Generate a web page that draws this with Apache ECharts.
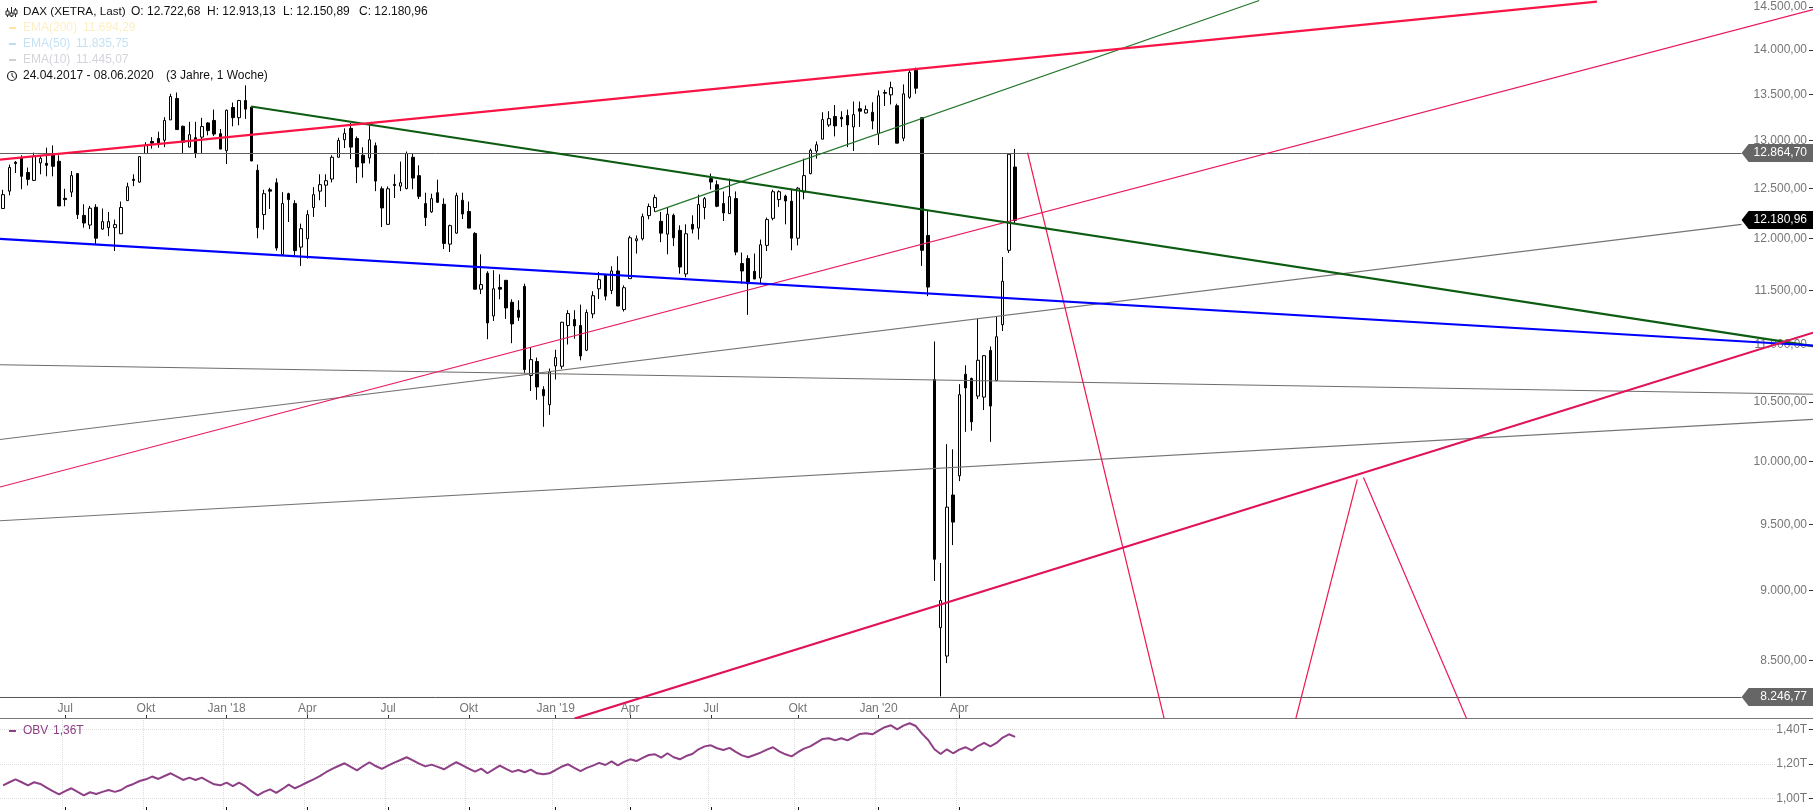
<!DOCTYPE html>
<html><head><meta charset="utf-8">
<style>html,body{margin:0;padding:0;background:#fff;overflow:hidden}#c{width:1813px;height:810px}</style>
<script src="https://cdn.jsdelivr.net/npm/echarts@6/dist/echarts.min.js"></script>
</head><body><div id="c"></div>
<script>
const FONT = '"Liberation Sans", Arial, sans-serif';
const startDate = '2017-04-24';
const weekSlots = 292;
// weekly candles: open, close, low, high
const candles = [
[12299,12439,12299,12489],[12475,12718,12432,12749],[12773,12759,12661,12786],[12822,12627,12495,12846],[12666,12596,12533,12718],
[12585,12835,12578,12874],[12766,12815,12648,12846],[12762,12741,12627,12926],[12864,12731,12627,12950],[12783,12325,12325,12846],
[12402,12389,12322,12499],[12465,12634,12415,12682],[12655,12238,12194,12655],[12230,12154,12108,12342],[12134,12302,12094,12325],
[12312,12004,11943,12342],[12094,12168,12088,12299],[12108,12168,12024,12265],[12108,12138,11879,12188],[12048,12309,12048,12369],
[12379,12520,12379,12561],[12596,12585,12526,12648],[12568,12832,12561,12835],[12864,12950,12864,12984],[12992,12974,12916,13038],
[13024,12974,12926,13096],[13005,13217,12932,13252],[13223,13478,13223,13508],[13457,13119,13119,13522],[13154,12984,12870,13162],
[12932,13064,12932,13202],[13032,12870,12818,13202],[13038,13151,12864,13245],[13190,13108,13057,13198],[13217,13071,13049,13335],
[13075,12911,12911,13125],[12895,13328,12755,13335],[13358,13247,13154,13412],[13247,13434,13165,13441],[13434,13340,13234,13601],
[13362,12786,12786,13362],[12689,12108,12004,12749],[12238,12449,12088,12489],[12489,12475,12295,12509],[12561,11908,11883,12606],
[11844,12349,11844,12465],[12449,12389,12164,12459],[12349,11883,11838,12382],[11917,12098,11735,12148],[11998,12238,11806,12282],
[12309,12439,12215,12516],[12475,12541,12382,12648],[12536,12582,12315,12648],[12599,12825,12565,12846],[12825,13002,12825,13032],
[13010,13078,12922,13132],[13132,12932,12807,13190],[13024,12724,12557,13046],[12846,12766,12613,12930],[12818,13010,12759,13165],
[12947,12578,12475,12981],[12499,12305,12114,12523],[12141,12499,12134,12523],[12544,12533,12405,12648],[12526,12561,12475,12780],
[12502,12864,12492,12885],[12825,12609,12495,12864],[12634,12422,12395,12741],[12349,12208,12124,12459],[12265,12399,12255,12449],
[12459,12362,12355,12592],[12342,11953,11898,12402],[11946,12128,11869,12138],[12054,12429,12048,12459],[12382,12244,12194,12459],
[12269,12104,12104,12369],[12051,11514,11514,12064],[11514,11557,11468,11847],[11665,11201,11053,11684],[11265,11518,11219,11694],
[11531,11514,11419,11655],[11598,11339,11238,11598],[11391,11192,11017,11419],[11318,11253,11219,11410],[11540,10782,10753,11566],
[10730,10870,10595,10981],[10853,10630,10519,10888],[10607,10554,10289,10636],[10477,10761,10390,10791],[10814,10888,10695,10958],
[10811,11207,10788,11210],[11177,11287,11005,11318],[11232,11173,11057,11318],[11177,10902,10864,11370],[10954,11297,10946,11324],
[11284,11453,11244,11495],[11518,11604,11422,11677],[11652,11449,11410,11655],[11502,11687,11468,11732],[11687,11357,11357,11828],
[11324,11528,11306,11550],[11614,12008,11614,12028],[11979,11998,11854,12031],[11998,12218,11982,12248],[12228,12319,12191,12349],
[12309,12409,12265,12439],[12171,12054,11965,12265],[12044,12241,11847,12309],[12231,12008,11927,12248],[12081,11725,11661,12131],
[11658,12048,11627,12141],[12141,12094,12051,12231],[12104,12339,11991,12439],[12309,12399,12191,12415],[12603,12568,12492,12655],
[12541,12322,12312,12585],[12349,12255,12174,12472],[12248,12419,12248,12603],[12399,11869,11838,12472],[11758,11687,11566,11864],
[11806,11566,11275,11838],[11684,11610,11610,11854],[11620,11940,11566,11991],[11934,12188,11879,12208],[12201,12469,12181,12489],
[12389,12469,12315,12482],[12425,12375,12141,12439],[12372,12004,11886,12499],[12004,12505,11934,12516],[12465,12634,12392,12811],
[12655,12898,12648,12916],[12891,12957,12811,12992],[13016,13226,13016,13306],[13168,13237,13147,13317],[13260,13158,13046,13384],
[13252,13234,13147,13317],[13270,13168,12932,13335],[13147,13280,12891,13423],[13344,13318,13147,13423],[13298,13335,13292,13380],
[13306,13212,13122,13415],[13078,13486,12953,13545],[13522,13515,13374,13553],[13497,13576,13391,13643],[13377,12974,12974,13399],
[13027,13508,12995,13612],[13470,13747,13453,13785],[13770,13570,13508,13800],[13247,11886,11735,13247],[12031,11534,11449,12275],
[10695,9233,9071,11032],[8731,8927,8254,9205],[8531,9635,8482,10144],[9731,9518,9341,10102],[9885,10563,9842,10654],
[10741,10621,10247,10820],[10703,10331,10256,10712],[10551,10864,10525,11238],[10542,10905,10431,10911],[10952,10465,10163,10987],
[10686,11075,10680,11256],[11185,11589,11127,11821],[11886,12857,11860,12864],[12723,12181,12151,12913]
];
// on-balance volume in trillions, weekly
const obvValues = [
1.075,1.093,1.110,1.093,1.075,1.093,1.083,1.062,1.041,1.023,
1.041,1.058,1.037,1.017,1.035,1.025,1.037,1.048,1.037,1.048,
1.070,1.083,1.100,1.110,1.126,1.112,1.129,1.145,1.126,1.106,
1.120,1.106,1.120,1.100,1.081,1.075,1.091,1.071,1.091,1.070,
1.041,1.017,1.037,1.052,1.031,1.054,1.079,1.058,1.075,1.093,
1.110,1.128,1.151,1.170,1.187,1.203,1.182,1.162,1.187,1.209,
1.187,1.170,1.189,1.207,1.222,1.238,1.220,1.201,1.185,1.195,
1.182,1.168,1.189,1.209,1.191,1.172,1.155,1.172,1.145,1.168,
1.189,1.170,1.153,1.164,1.151,1.166,1.145,1.139,1.145,1.164,
1.184,1.197,1.176,1.158,1.176,1.189,1.205,1.193,1.214,1.191,
1.211,1.226,1.216,1.234,1.251,1.255,1.236,1.261,1.238,1.226,
1.245,1.257,1.284,1.301,1.307,1.290,1.280,1.292,1.269,1.249,
1.238,1.251,1.265,1.282,1.296,1.272,1.255,1.243,1.267,1.288,
1.301,1.323,1.344,1.348,1.336,1.348,1.336,1.354,1.373,1.377,
1.371,1.392,1.412,1.423,1.400,1.421,1.435,1.419,1.375,1.338,
1.284,1.257,1.284,1.261,1.282,1.296,1.278,1.303,1.321,1.301,
1.321,1.352,1.371,1.356
];
const tickDates = ['2017-07-03','2017-10-02','2018-01-01','2018-04-02','2018-07-02','2018-10-01','2019-01-07','2019-04-01','2019-07-01','2019-10-07','2020-01-06','2020-04-06'];
const tickLabels = ['Jul','Okt',"Jan '18",'Apr','Jul','Okt',"Jan '19",'Apr','Jul','Okt',"Jan '20",'Apr'];
const priceTicks = [8500,9000,9500,10000,10500,11000,11500,12000,12500,13000,13500,14000,14500];
const obvTicks = [1.0,1.2,1.4];
const priceTags = [12864.70,12180.96,8246.77];
// drawn lines: [week index, price] end points
const redResistance = [[-0.5,12801],[256.7,14566]];
const greenDown = [[39.95,13369],[291.5,10990]];
const greenUp = [[104.96,12265],[202.3,14578]];
const blueSupport = [[-0.5,11998],[291.5,10996]];
const crimsonSupport = [[92.04,8106],[291.5,11112]];
const pinkChannel = [[-0.5,9795],[291.5,14471]];
const pinkDrop = [[165,12874],[187.0,8106]];
const pinkRise = [[208.2,8106],[218.1,9856]];
const pinkFall = [[219.1,9872],[235.7,8106]];
const greyHigh = [[-0.5,12864.7],[280,12864.7]];
const greyLow = [[-0.5,8246.77],[280,8246.77]];
const greyRise1 = [[-0.5,10183],[280,12141]];
const greyFlat = [[-0.5,10825],[291.5,10566]];
const greyRise2 = [[-0.5,9528],[291.5,10352]];

const pad = n => String(n).padStart(2,'0');
const categories = [];
for (let i = 0; i < weekSlots; i++) {
  const d = new Date(startDate + 'T00:00:00Z');
  d.setUTCDate(d.getUTCDate() + 7 * i);
  categories.push(d.getUTCFullYear() + '-' + pad(d.getUTCMonth() + 1) + '-' + pad(d.getUTCDate()));
}
const isTick = (idx, val) => tickDates.includes(val);
const deNum = (v, dec) => v.toFixed(dec).replace('.', ',').replace(/\B(?=(\d{3})+(?!\d))(?=.*,)/g, '.');

const chart = echarts.init(document.getElementById('c'), null, {renderer:'canvas'});
function lineSeries(name, data, color, width) {
  return {name, type:'line', xAxisIndex:1, yAxisIndex:0, data, symbol:'none', silent:true,
    lineStyle:{color, width}, z:5, animation:false};
}
const legendText = (x, y, text, fill) => ({type:'text', x, y, silent:true, z:20,
  style:{text, fill, font:'12px ' + FONT, verticalAlign:'middle'}});
const dash = (y, fill) => ({type:'rect', silent:true, z:20, shape:{x:9,y:y-1,width:7,height:2}, style:{fill}});

chart.setOption({
  animation:false,
  backgroundColor:'#fff',
  textStyle:{fontFamily:FONT},
  grid:[
    {left:0, top:0, width:1814.2, height:718, containLabel:false},
    {left:0, top:718, width:1814.2, height:92, containLabel:false}
  ],
  xAxis:[
    {type:'category', gridIndex:0, data:categories, boundaryGap:true,
     axisLine:{show:true, onZero:false, lineStyle:{color:'#777', width:1}},
     axisTick:{show:true, inside:true, length:3, alignWithLabel:true, interval:isTick, lineStyle:{color:'#333'}},
     axisLabel:{show:true, inside:true, margin:3, interval:isTick, color:'#757575', fontSize:12, fontFamily:FONT,
       hideOverlap:false, formatter:v => { const i = tickDates.indexOf(v); return i < 0 ? '' : tickLabels[i]; }},
     splitLine:{show:false}},
    {type:'value', gridIndex:0, min:-0.5, max:291.5, show:false, splitLine:{show:false}},
    {type:'category', gridIndex:1, data:categories, boundaryGap:true,
     axisLine:{show:false, onZero:false},
     axisTick:{show:true, inside:true, length:3, alignWithLabel:true, interval:isTick, lineStyle:{color:'#111'}},
     axisLabel:{show:false},
     splitLine:{show:true, interval:isTick, lineStyle:{color:'#dcdcdc', type:'dotted', width:1}}}
  ],
  yAxis:[
    {type:'log', gridIndex:0, position:'right', min:8109.6, max:14584.6,
     axisLine:{show:false, onZero:false},
     axisTick:{show:true, inside:true, length:4, lineStyle:{color:'#333'}, customValues:priceTicks},
     axisLabel:{show:true, inside:true, margin:6, color:'#757575', fontSize:12, fontFamily:FONT, customValues:priceTicks,
       padding:[0,0,3,0], formatter:v => deNum(v,2)},
     splitLine:{show:false}},
    {type:'value', gridIndex:1, position:'right', min:0.932, max:1.4655,
     axisLine:{show:false, onZero:false},
     axisTick:{show:true, inside:true, length:4, lineStyle:{color:'#333'}, customValues:obvTicks},
     axisLabel:{show:true, inside:true, margin:6, color:'#757575', fontSize:12, fontFamily:FONT, customValues:obvTicks,
       backgroundColor:'#fff', formatter:v => v.toFixed(2).replace('.',',') + 'T'},
     splitLine:{show:true, lineStyle:{color:'#dcdcdc', type:'dotted', width:1}}}
  ],
  series:[
    {name:'DAX', type:'candlestick', xAxisIndex:0, yAxisIndex:0, data:candles, barWidth:3, z:3, silent:true,
     itemStyle:{color:'#fff', color0:'#000', borderColor:'#000', borderColor0:'#000', borderWidth:1}},
    lineSeries('Grey high', greyHigh, '#5f5f5f', 1),
    lineSeries('Grey low', greyLow, '#555', 1),
    lineSeries('Grey rise 1', greyRise1, '#777370', 1.1),
    lineSeries('Grey flat', greyFlat, '#6f6b69', 1.1),
    lineSeries('Grey rise 2', greyRise2, '#777370', 1.1),
    lineSeries('Pink channel', pinkChannel, '#e8195f', 1.2),
    lineSeries('Pink drop', pinkDrop, '#f0144f', 1.2),
    lineSeries('Pink rise', pinkRise, '#f0144f', 1.2),
    lineSeries('Pink fall', pinkFall, '#e8195f', 1.2),
    lineSeries('Green up', greenUp, '#23752a', 1.2),
    lineSeries('Green down', greenDown, '#0c5c12', 2.2),
    lineSeries('Blue support', blueSupport, '#0000ff', 2.2),
    lineSeries('Crimson support', crimsonSupport, '#e0125a', 2.2),
    lineSeries('Red resistance', redResistance, '#fa1446', 2.2),
    {name:'Price tags', type:'custom', xAxisIndex:1, yAxisIndex:0, z:8, silent:true, clip:false,
     data:priceTags.map((v,i)=>[280,v,i]),
     encode:{x:0,y:1},
     renderItem:(params, api) => {
       const p = api.coord([api.value(0), api.value(1)]);
       const x = p[0], y = Math.floor(p[1]);
       const fill = api.value(2) === 1 ? '#000' : '#666';
       return {type:'group', children:[
         {type:'polygon', shape:{points:[[x,y],[x+7,y-9],[1813,y-9],[1813,y+9],[x+7,y+9]]}, style:{fill}},
         {type:'text', style:{text:deNum(api.value(1),2), x:1807, y:y, fill:'#fff', align:'right', verticalAlign:'middle', font:'12px '+FONT}}
       ]};
     }},
    {name:'OBV', type:'line', xAxisIndex:2, yAxisIndex:1, data:obvValues, symbol:'none', silent:true,
     lineStyle:{color:'#8e3f86', width:2}, z:5}
  ],
  graphic:[
    {type:'rect', silent:true, z:20, shape:{x:7,y:8,width:1,height:9}, style:{fill:'#222'}},
    {type:'rect', silent:true, z:20, shape:{x:11,y:7,width:1,height:10}, style:{fill:'#222'}},
    {type:'rect', silent:true, z:20, shape:{x:15,y:8,width:1,height:9}, style:{fill:'#222'}},
    {type:'rect', silent:true, z:20, shape:{x:6,y:11,width:3,height:4}, style:{fill:'#fff',stroke:'#222',lineWidth:1}},
    {type:'rect', silent:true, z:20, shape:{x:10,y:13,width:3,height:3}, style:{fill:'#fff',stroke:'#222',lineWidth:1}},
    {type:'rect', silent:true, z:20, shape:{x:14,y:10,width:3,height:4}, style:{fill:'#fff',stroke:'#222',lineWidth:1}},
    {type:'text', x:23, y:12, silent:true, z:20, style:{text:'DAX (XETRA, Last)', fill:'#111', font:'11.7px ' + FONT, verticalAlign:'middle'}},
    legendText(131,12,'O: 12.722,68','#111'),
    legendText(207,12,'H: 12.913,13','#111'),
    legendText(283,12,'L: 12.150,89','#111'),
    legendText(359,12,'C: 12.180,96','#111'),
    dash(28,'#fde7a0'), legendText(23,28,'EMA(200)','#fdeec4'), legendText(83,28,'11.694,29','#fdeec4'),
    dash(44,'#bfdcf0'), legendText(23,44,'EMA(50)','#c4e2f4'), legendText(76,44,'11.835,75','#c4e2f4'),
    dash(60,'#cfcfd6'), legendText(23,60,'EMA(10)','#d6d3dc'), legendText(76,60,'11.445,07','#d6d3dc'),
    {type:'circle', silent:true, z:20, shape:{cx:12,cy:76,r:4.5}, style:{fill:'none',stroke:'#222',lineWidth:1.2}},
    {type:'polyline', silent:true, z:20, shape:{points:[[12,73],[12,76],[14.5,78]]}, style:{fill:'none',stroke:'#222',lineWidth:1}},
    legendText(23,76,'24.04.2017 - 08.06.2020','#111'),
    legendText(166,76,'(3 Jahre, 1 Woche)','#111'),
    dash(731,'#8e3f86'), legendText(23,731,'OBV','#8e3f86'), legendText(53,731,'1,36T','#8e3f86')
  ]
});
if (candles.length !== 164 || obvValues.length !== 164) console.error('length', candles.length, obvValues.length);
</script></body></html>
